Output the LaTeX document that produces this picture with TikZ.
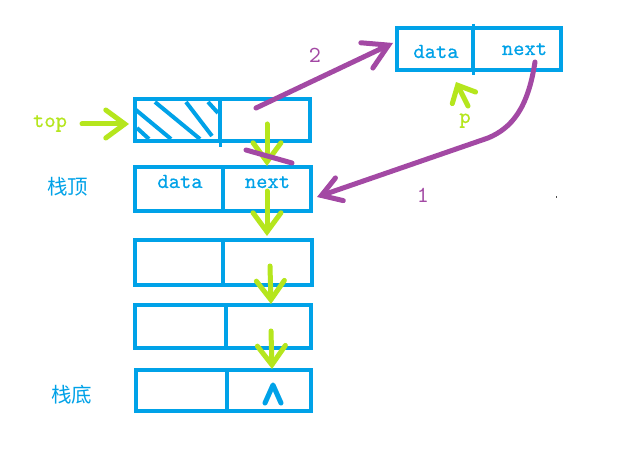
\documentclass[tikz,border=0pt]{standalone}
\usepackage{fontspec}
\usetikzlibrary{arrows.meta}
\newfontfamily\codefont{lmmono10-regular.otf}[FakeBold=0.6]
\newfontfamily\numfont{lmmono10-regular.otf}
\newfontfamily\cjkfont{Noto Sans CJK SC}
\definecolor{pblue}{HTML}{00A2E8}
\definecolor{pgreen}{HTML}{B5E61D}
\definecolor{ppurple}{HTML}{A349A4}
\tikzset{
  cell/.style={draw=pblue, line width=4.5pt, rectangle, inner sep=0pt, outer sep=0pt},
  field/.style={font=\codefont\fontsize{21.5}{22}\selectfont, text=pblue, anchor=base, inner sep=0pt},
  tag/.style={font=\cjkfont\fontsize{20.5}{22}\selectfont, text=pblue, inner sep=0pt},
  num/.style={font=\numfont\fontsize{23}{24}\selectfont, text=ppurple, inner sep=0pt},
  ptr/.style={font=\codefont\fontsize{21.5}{22}\selectfont, text=pgreen, anchor=base, inner sep=0pt},
  garrow/.style={draw=pgreen, line width=5pt, line cap=round,
    -{Straight Barb[length=19pt, width=28pt, line width=5pt, line cap=round]}},
  parrow/.style={draw=ppurple, line width=5pt, line cap=round},
  hatch/.style={draw=pblue, line width=4pt},
}
\begin{document}
\begin{tikzpicture}[x=1pt, y=-1pt]
\useasboundingbox[fill=white] (0,0) rectangle (633,454);

% top node (hatched data field)
\node[cell, minimum width=85pt, minimum height=42pt] (td) at (177.5,120) {};
\node[cell, minimum width=90pt, minimum height=42pt] (tn) at (265,120) {};
\draw[hatch] (136,110) -- (171,139);
\draw[hatch] (155,102) -- (200,139);
\draw[hatch] (186,102) -- (212,136);
\draw[hatch] (208,102) -- (218,113);
\draw[hatch] (137,128) -- (149,139);
\draw[draw=pblue, line width=3pt] (tn.south west) -- ++(0,6);

% stack nodes
\node[cell, minimum width=88pt, minimum height=44pt] (d1) at (179,189) {};
\node[cell, minimum width=88pt, minimum height=44pt] (n1) at (267,189) {};
\node[cell, minimum width=88pt, minimum height=45pt] (d2) at (179,262.5) {};
\node[cell, minimum width=89pt, minimum height=45pt] (n2) at (267.5,262.5) {};
\node[cell, minimum width=91pt, minimum height=43pt] (d3) at (180.5,326.5) {};
\node[cell, minimum width=85pt, minimum height=43pt] (n3) at (268.5,326.5) {};
\node[cell, minimum width=91pt, minimum height=41pt] (d4) at (181.5,390.5) {};
\node[cell, minimum width=84pt, minimum height=41pt] (n4) at (269,390.5) {};

% new node p
\node[cell, minimum width=76pt, minimum height=42pt] (pd) at (435,49) {};
\node[cell, minimum width=88pt, minimum height=42pt] (pn) at (517,49) {};
\draw[draw=pblue, line width=3pt] ([yshift=4pt]pn.north west) -- ([yshift=-5pt]pn.south west);

% field names
\node[field] (d1t) at (180,188) {data};
\node[field] (n1t) at (267.5,188) {next};
\node[field] (pdt) at (436,58) {data};
\node[field] (pnt) at (524.5,55) {next};

% null pointer mark
\draw[draw=pblue, line width=5pt, line cap=round, line join=round]
  (265,403) -- (273,385) -- (281,403);

% side labels
\node[ptr] (toplbl) at (50,127) {top};
\node[tag] (stop) at (68,187) {栈顶};
\node[tag] (sbot) at (72,395) {栈底};
\node[ptr] (plbl) at (465,123) {p};
\node[num] (two) at (315,55) {2};
\node[num] (one) at (423,195) {1};

% green pointers
\coordinate (topS) at (82,124);
\coordinate (topE) at (129,124);
\draw[garrow] (topS) -- (topE);
\coordinate (a1s) at (267,124);
\coordinate (a1e) at (267,166);
\draw[garrow] (a1s) -- (a1e);
\coordinate (a2s) at (267,191);
\coordinate (a2e) at (267,236);
\draw[garrow] (a2s) -- (a2e);
\coordinate (a3s) at (270,266);
\coordinate (a3e) at (271,304);
\draw[garrow] (a3s) -- (a3e);
\coordinate (a4s) at (271,331);
\coordinate (a4e) at (272,369);
\draw[garrow] (a4s) -- (a4e);
\coordinate (ps) at (468,106);
\coordinate (pe) at (456,82);
\draw[draw=pgreen, line width=5pt, line cap=round,
  -{Straight Barb[length=14pt, width=26pt, line width=5pt, line cap=round]}] (ps) -- (pe);

% purple re-linking
\coordinate (c1s) at (535,62);
\coordinate (c1m) at (488,138);
\coordinate (c1e) at (317,197);
\draw[parrow, -{Straight Barb[length=19pt, width=24pt, line width=5pt, line cap=round]}]
  (c1s) .. controls (528,108) and (512,128) .. (c1m) -- (c1e);
\coordinate (c2s) at (256,108);
\coordinate (c2e) at (393,43);
\draw[parrow, -{Straight Barb[length=24pt, width=28pt, line width=5pt, line cap=round]}]
  (c2s) -- (c2e);
\coordinate (xs) at (246,150);
\coordinate (xe) at (292,163);
\draw[parrow] (xs) -- (xe);

% speck
\fill[black!70] (555.5,196.5) rectangle (557,198);
\end{tikzpicture}
\end{document}
